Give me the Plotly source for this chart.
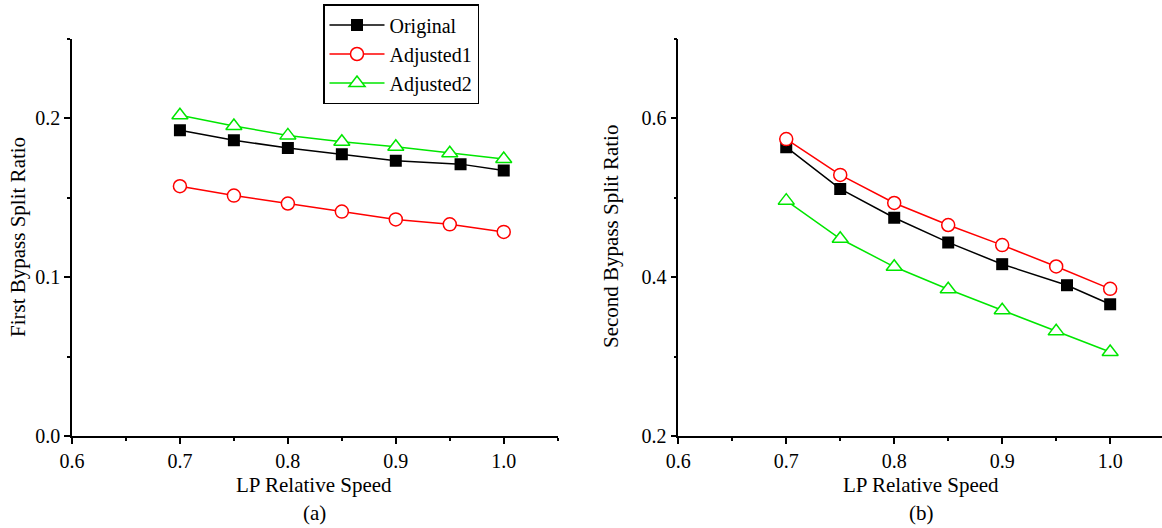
import plotly.graph_objects as go

# ---- data ----
speed = [0.7, 0.75, 0.8, 0.85, 0.9, 0.95, 1.0]
speed_orig = [0.7, 0.75, 0.8, 0.85, 0.9, 0.96, 1.0]

first_original = [0.1925, 0.1863, 0.1813, 0.1775, 0.1733, 0.1712, 0.1672]
first_adjusted1 = [0.1573, 0.1514, 0.1464, 0.1413, 0.1364, 0.1333, 0.1285]
first_adjusted2 = [0.2020, 0.1952, 0.1893, 0.1853, 0.1822, 0.1781, 0.1744]

second_original = [0.5638, 0.5112, 0.4749, 0.4438, 0.4164, 0.3899, 0.3659]
second_adjusted1 = [0.5739, 0.5288, 0.4935, 0.4657, 0.4404, 0.4135, 0.3853]
second_adjusted2 = [0.4964, 0.4484, 0.4131, 0.3849, 0.3583, 0.3318, 0.3057]

series_names = ["Original", "Adjusted1", "Adjusted2"]
x_tick_vals = [0.6, 0.7, 0.8, 0.9, 1.0]
x_tick_text = ["0.6", "0.7", "0.8", "0.9", "1.0"]
y1_tick_vals = [0.0, 0.1, 0.2]
y1_tick_text = ["0.0", "0.1", "0.2"]
y2_tick_vals = [0.2, 0.4, 0.6]
y2_tick_text = ["0.2", "0.4", "0.6"]

FONT = "Liberation Serif"
BLACK = "#000000"
RED = "#FF0000"
GREEN = "#00E600"

styles = [
    dict(color=BLACK, symbol="square", fill=BLACK, size=12, lw=0),
    dict(color=RED, symbol="circle", fill="white", size=13, lw=1.5),
    dict(color=GREEN, symbol="triangle-up", fill="white", size=14, lw=1.5),
]

fig = go.Figure()

left = [(speed_orig, first_original), (speed, first_adjusted1), (speed, first_adjusted2)]
right = [(speed_orig, second_original), (speed, second_adjusted1), (speed, second_adjusted2)]

for i, (xs, ys) in enumerate(left):
    s = styles[i]
    fig.add_trace(go.Scatter(
        x=xs, y=ys, mode="lines+markers", name=series_names[i],
        line=dict(color=s["color"], width=1.5),
        marker=dict(symbol=s["symbol"], size=s["size"], color=s["fill"],
                    line=dict(color=s["color"], width=s["lw"])),
        xaxis="x", yaxis="y", showlegend=True, legendgroup=series_names[i]))

for i, (xs, ys) in enumerate(right):
    s = styles[i]
    fig.add_trace(go.Scatter(
        x=xs, y=ys, mode="lines+markers", name=series_names[i],
        line=dict(color=s["color"], width=1.5),
        marker=dict(symbol=s["symbol"], size=s["size"], color=s["fill"],
                    line=dict(color=s["color"], width=s["lw"])),
        xaxis="x2", yaxis="y2", showlegend=False, legendgroup=series_names[i]))

axis_common = dict(
    showline=True, linecolor=BLACK, linewidth=1.5, mirror=False,
    showgrid=False, zeroline=False, automargin=False,
    ticks="outside", ticklen=6, tickwidth=1.5, tickcolor=BLACK,
    tickfont=dict(family=FONT, size=20, color=BLACK),
)

fig.update_layout(
    width=1162, height=528,
    margin=dict(l=72, r=0, t=39, b=92, autoexpand=False),
    paper_bgcolor="white", plot_bgcolor="white",
    font=dict(family=FONT, color=BLACK),
    xaxis=dict(domain=[0, 0.4456], range=[0.6, 1.05], tickvals=x_tick_vals, ticktext=x_tick_text,
               minor=dict(dtick=0.05, tick0=0.6, ticks="outside", ticklen=3, tickwidth=1.5, tickcolor=BLACK),
               anchor="y", **axis_common),
    yaxis=dict(domain=[0, 1], range=[0, 0.25], tickvals=y1_tick_vals, ticktext=y1_tick_text,
               minor=dict(dtick=0.05, tick0=0, ticks="outside", ticklen=3, tickwidth=1.5, tickcolor=BLACK),
               anchor="x", **axis_common),
    xaxis2=dict(domain=[0.5562, 1.0], range=[0.6, 1.048], tickvals=x_tick_vals, ticktext=x_tick_text,
                minor=dict(dtick=0.05, tick0=0.6, ticks="outside", ticklen=3, tickwidth=1.5, tickcolor=BLACK),
                anchor="y2", **axis_common),
    yaxis2=dict(domain=[0, 1], range=[0.2, 0.7], tickvals=y2_tick_vals, ticktext=y2_tick_text,
                minor=dict(dtick=0.1, tick0=0.2, ticks="outside", ticklen=3, tickwidth=1.5, tickcolor=BLACK),
                anchor="x2", **axis_common),
    legend=dict(
        x=(323 - 72) / 1090, y=1 + 35 / 397, xanchor="left", yanchor="top",
        bordercolor=BLACK, borderwidth=1.5, bgcolor="white",
        font=dict(family=FONT, size=20, color=BLACK),
        itemwidth=55, tracegroupgap=0,
    ),
)

def px_to_paper_x(px):
    return (px - 72) / 1090.0

def px_to_paper_y(py):
    return (436 - py) / 397.0

ann_font = dict(family=FONT, size=21, color=BLACK)
annots = [
    dict(text="LP Relative Speed", x=px_to_paper_x(314), y=px_to_paper_y(485)),
    dict(text="LP Relative Speed", x=px_to_paper_x(921), y=px_to_paper_y(485)),
    dict(text="(a)", x=px_to_paper_x(314), y=px_to_paper_y(513)),
    dict(text="(b)", x=px_to_paper_x(921), y=px_to_paper_y(513)),
    dict(text="First Bypass Split Ratio", x=px_to_paper_x(18), y=px_to_paper_y(237), textangle=-90),
    dict(text="Second Bypass Split Ratio", x=px_to_paper_x(611), y=px_to_paper_y(237), textangle=-90),
]
for a in annots:
    fig.add_annotation(xref="paper", yref="paper", showarrow=False,
                       xanchor="center", yanchor="middle", font=ann_font, **a)

fig.write_html("out.html")
